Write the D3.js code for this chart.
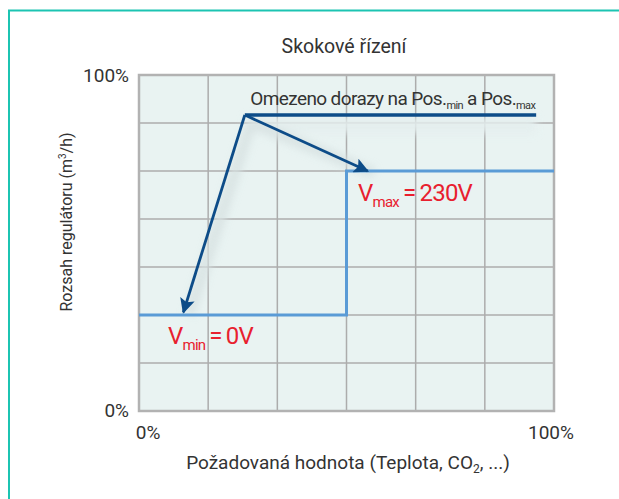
<!DOCTYPE html>
<html>
<head>
<meta charset="utf-8">
<script src="https://cdn.jsdelivr.net/npm/d3@7"></script>
<style>
  body { margin: 0; background: #fff; }
  text { font-family: Roboto, "Open Sans", sans-serif; }
</style>
</head>
<body>
<div id="chart"></div>
<script>
// data
const xTickLabels = ["0%", "100%"];
const yTickLabels = ["0%", "100%"];
const xGridCount = 6;
const yGridCount = 7;
// step response (x = setpoint share, y = regulator range share)
const stepX = [0, 0.5, 0.5, 1];
const stepY = [2 / 7, 2 / 7, 5 / 7, 5 / 7];
// limit line "Omezeno dorazy" and its two arrows
const limitX = [0.255, 0.957];
const limitY = 0.881;
const arrowTargets = [[0.551, 0.714], [0.107, 0.294]];

var W = 619, H = 499;
var margin = {top: 75, left: 139, right: 65, bottom: 88},
    width = W - margin.left - margin.right,
    height = H - margin.top - margin.bottom;

var svg = d3.select("#chart").append("svg")
    .attr("width", W).attr("height", H);

var defs = svg.append("defs");
defs.append("marker")
    .attr("id", "arr")
    .attr("viewBox", "0 0 10 10")
    .attr("refX", 9).attr("refY", 5)
    .attr("markerWidth", 17).attr("markerHeight", 15)
    .attr("markerUnits", "userSpaceOnUse")
    .attr("orient", "auto")
    .append("path").attr("d", "M0,0 L10,5 L0,10 L2,5 z").attr("fill", "#0d4c88");
defs.append("filter").attr("id", "soft")
    .attr("x", "-20%").attr("y", "-20%").attr("width", "140%").attr("height", "140%")
    .append("feGaussianBlur").attr("stdDeviation", 4);

// frame
svg.append("path")
    .attr("d", `M9,${H + 2} L9,10.5 L${W + 2},10.5`)
    .attr("fill", "none").attr("stroke", "#1cc4b2").attr("stroke-width", 2);

var g = svg.append("g").attr("transform", `translate(${margin.left},${margin.top})`);

var x = d3.scaleLinear().domain([0, 1]).range([0, width]);
var y = d3.scaleLinear().domain([0, 1]).range([height, 0]);

g.append("rect").attr("width", width).attr("height", height).attr("fill", "#e9f3f2");

// grid
g.append("g").selectAll("line")
    .data(d3.range(1, xGridCount).map(i => i / xGridCount))
    .join("line")
    .attr("x1", d => x(d)).attr("x2", d => x(d))
    .attr("y1", 0).attr("y2", height)
    .attr("stroke", "#acacac").attr("stroke-width", 1.5);
g.append("g").selectAll("line")
    .data(d3.range(1, yGridCount).map(i => i / yGridCount))
    .join("line")
    .attr("y1", d => y(d)).attr("y2", d => y(d))
    .attr("x1", 0).attr("x2", width)
    .attr("stroke", "#acacac").attr("stroke-width", 1.5);

// plot border
g.append("path")
    .attr("d", `M0,0 H${width} V${height} H0 Z`)
    .attr("fill", "none").attr("stroke", "#b2b2b2").attr("stroke-width", 2.5);

// soft shadows below annotation lines
var shadow = g.append("g").attr("filter", "url(#soft)").attr("opacity", 0.9);
shadow.append("line")
    .attr("x1", x(limitX[0])).attr("x2", x(limitX[1]))
    .attr("y1", y(limitY) + 10).attr("y2", y(limitY) + 10)
    .attr("stroke", "#e4eeee").attr("stroke-width", 16);
arrowTargets.forEach(t => {
    shadow.append("line")
        .attr("x1", x(limitX[0]) + 6).attr("y1", y(limitY) + 8)
        .attr("x2", x(t[0]) + 6).attr("y2", y(t[1]) + 2)
        .attr("stroke", "#d7e1e1").attr("stroke-width", 10);
});

// step line
var line = d3.line().x(d => x(d[0])).y(d => y(d[1]));
g.append("path")
    .datum(d3.zip(stepX, stepY))
    .attr("d", line)
    .attr("fill", "none").attr("stroke", "#5a9bd6").attr("stroke-width", 3);

// limit line and arrows
g.append("line")
    .attr("x1", x(limitX[0])).attr("x2", x(limitX[1]))
    .attr("y1", y(limitY)).attr("y2", y(limitY))
    .attr("stroke", "#0d4c88").attr("stroke-width", 3.5);
arrowTargets.forEach(t => {
    g.append("line")
        .attr("x1", x(limitX[0])).attr("y1", y(limitY))
        .attr("x2", x(t[0])).attr("y2", y(t[1]))
        .attr("stroke", "#0d4c88").attr("stroke-width", 2.8)
        .attr("marker-end", "url(#arr)");
});

// annotation text
var note = g.append("text")
    .attr("x", x(0.268)).attr("y", y(limitY) - 10)
    .attr("font-size", 19).attr("letter-spacing", -0.6).attr("fill", "#333");
note.append("tspan").text("Omezeno dorazy na Pos.");
note.append("tspan").attr("dy", 4).attr("font-size", 11).text("min");
note.append("tspan").attr("dy", -4).text(" a  Pos.");
note.append("tspan").attr("dy", 4).attr("font-size", 11).text("max");

function voltLabel(px, py, sub, val) {
    var t = g.append("text").attr("x", px).attr("y", py)
        .attr("font-size", 24).attr("letter-spacing", -0.8).attr("fill", "#e8202e");
    t.append("tspan").text("V");
    t.append("tspan").attr("dy", 6).attr("font-size", 15).text(sub);
    t.append("tspan").attr("dy", -6).text("\u2009=\u2009" + val);
}
voltLabel(x(0.528), y(5 / 7) + 30, "max", "230V");
voltLabel(x(0.07), y(2 / 7) + 29, "min", "0V");

// axis tick labels
var yt = d3.scaleOrdinal().domain(yTickLabels).range([height + 6, 7]);
g.selectAll(".ylab").data(yTickLabels).join("text")
    .attr("class", "ylab")
    .attr("x", -10).attr("y", d => yt(d))
    .attr("text-anchor", "end").attr("font-size", 19).attr("fill", "#333")
    .text(d => d);
var xt = d3.scaleOrdinal().domain(xTickLabels).range([9, width - 3]);
g.selectAll(".xlab").data(xTickLabels).join("text")
    .attr("class", "xlab")
    .attr("x", d => xt(d)).attr("y", height + 28)
    .attr("text-anchor", "middle").attr("font-size", 19).attr("fill", "#333")
    .text(d => d);

// titles
svg.append("text")
    .attr("x", 344).attr("y", 53)
    .attr("text-anchor", "middle").attr("font-size", 19.5).attr("fill", "#333")
    .text("Skokové řízení");

var xl = svg.append("text")
    .attr("x", 348).attr("y", 469)
    .attr("text-anchor", "middle").attr("font-size", 19).attr("fill", "#333");
xl.append("tspan").text("Požadovaná hodnota (Teplota, CO");
xl.append("tspan").attr("dy", 4).attr("font-size", 12).text("2");
xl.append("tspan").attr("dy", -4).text(", ...)");

var yl = svg.append("text")
    .attr("transform", "translate(72,222) rotate(-90)")
    .attr("text-anchor", "middle").attr("font-size", 16).attr("fill", "#333");
yl.append("tspan").text("Rozsah regulátoru (m");
yl.append("tspan").attr("dy", -6).attr("font-size", 10).text("3");
yl.append("tspan").attr("dy", 6).text("/h)");
</script>
</body>
</html>
